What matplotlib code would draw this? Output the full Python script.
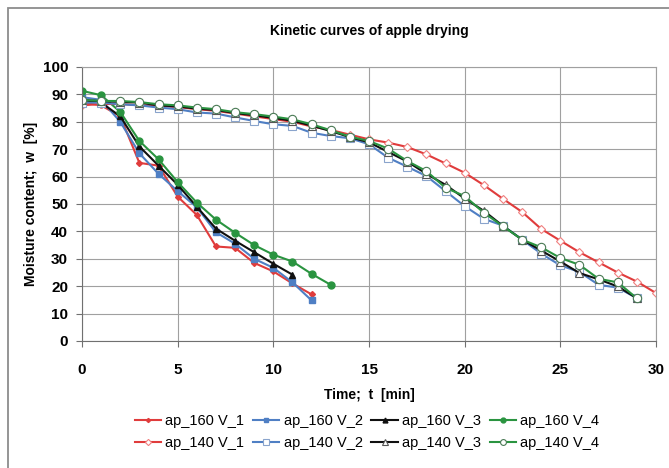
import matplotlib
matplotlib.use("Agg")
import matplotlib.pyplot as plt
from matplotlib.patches import Rectangle

plt.rcParams['font.family'] = ['Liberation Sans', 'DejaVu Sans']

# 160 W runs
t_160 = list(range(13))
t_160_4 = list(range(14))
ap160_1 = [87, 86, 82, 65, 64, 52.7, 46, 34.5, 34, 28.5, 25.4, 21, 17]
ap160_2 = [89, 88, 80, 68.5, 61, 54.7, 48.8, 39.7, 35.5, 30, 26.7, 21.4, 14.8]
ap160_3 = [88, 87, 82, 71, 64, 57, 49, 41, 36.6, 32.4, 28.2, 24.2]
ap160_4 = [91.3, 89.7, 83.6, 73, 66.3, 58, 50.5, 44.3, 39.5, 35, 31.5, 29, 24.5, 20.5]

# 140 W runs
t_140_1 = list(range(31))
t_140 = list(range(30))
ap140_1 = [86, 86.5, 86.5, 86, 85.8, 85.4, 84.6, 84, 83, 82, 81, 80, 78.3, 77, 75.3,
           73.6, 72.4, 70.8, 68.1, 64.8, 61.4, 56.9, 51.9, 47.1, 40.9, 36.6, 32.4,
           28.7, 25, 21.7, 17.5]
ap140_2 = [87, 87, 86.4, 86, 85.2, 84.6, 83.4, 83, 81.6, 80.3, 79.1, 78.5, 76, 74.8, 74,
           71.8, 66.9, 63.6, 60.2, 54.7, 49.2, 44.6, 42.1, 37, 31.9, 27.6, 25.2,
           20.5, 19.5, 15.6]
ap140_3 = [88, 87.5, 87.3, 87, 86, 85.6, 84.8, 84.3, 83.2, 82.4, 81.4, 80.4, 78.6, 76.6, 74.4,
           72.5, 69, 65.5, 61, 57, 52, 47.5, 42, 37, 33, 29, 24.8,
           22.5, 19.9, 15.6]
ap140_4 = [88, 87.6, 87.6, 87.2, 86.4, 86, 85.2, 84.6, 83.5, 82.8, 81.9, 80.9, 79.1, 76.9, 74.6,
           73, 70.2, 65.7, 62, 55.9, 52.9, 46.8, 41.9, 37, 34.2, 30.3, 27.8,
           22.7, 21.4, 15.6]

red = '#e03c3c'
blue = '#4f7fc4'
black = '#101010'
green = '#2a9440'

fig = plt.figure(figsize=(6.69, 4.68), dpi=100)
fig.patches.append(Rectangle((8 / 669, -0.1), 1.2, 1 - 8 / 468 + 0.1,
                             transform=fig.transFigure, fill=False,
                             edgecolor='#8c8c8c', linewidth=1.3))

ax = fig.add_axes([82 / 669, 1 - 341 / 468, (656 - 82) / 669, (341 - 67) / 468])

lw = 1.5
h1, = ax.plot(t_160, ap160_1, color=red, marker='D', markersize=3, lw=lw, label='ap_160 V_1')
h2, = ax.plot(t_160, ap160_2, color=blue, marker='s', markersize=5, lw=lw, label='ap_160 V_2')
h3, = ax.plot(t_160[:12], ap160_3, color=black, marker='^', markersize=5, lw=lw, label='ap_160 V_3')
h4, = ax.plot(t_160_4, ap160_4, color=green, marker='o', markersize=5, lw=lw, label='ap_160 V_4')
h5, = ax.plot(t_140_1, ap140_1, color=red, marker='D', markersize=4.5, mfc='white', mec='#f08080',
              mew=0.8, lw=lw, label='ap_140 V_1')
h6, = ax.plot(t_140, ap140_2, color=blue, marker='s', markersize=6, mfc='white', mec='#8aa4cc',
              mew=0.8, lw=lw, label='ap_140 V_2')
h7, = ax.plot(t_140, ap140_3, color=black, marker='^', markersize=6, mfc='white', mec='#555555',
              mew=0.8, lw=lw, label='ap_140 V_3')
h8, = ax.plot(t_140, ap140_4, color=green, marker='o', markersize=6, mfc='white', mec='#4a7a55',
              mew=0.8, lw=lw, label='ap_140 V_4')

ax.set_xlim(0, 30)
ax.set_ylim(0, 100)
ax.set_xticks(range(0, 31, 5))
ax.set_yticks(range(0, 101, 10))
ax.grid(True, color='#a0a0a0', linewidth=0.8)
ax.set_axisbelow(True)
for s in ax.spines.values():
    s.set_color('#a0a0a0')
ax.spines['left'].set_color('#707070')
ax.spines['bottom'].set_color('#707070')
ax.tick_params(direction='out', length=4, color='#707070', labelsize=11, pad=6)
for lab in ax.get_xticklabels() + ax.get_yticklabels():
    lab.set_fontweight('bold')
ax.tick_params(axis='x', pad=12)

fig.text(0.5 * (82 + 656) / 669, 1 - 31 / 468, 'Kinetic curves of apple drying',
         ha='center', va='center', fontsize=10, fontweight='bold')
ax.set_xlabel('Time;  t  [min]', fontsize=10, fontweight='bold', labelpad=8)
ax.set_ylabel('Moisture content;  w  [%]', fontsize=10, fontweight='bold', labelpad=3)

# legend fills column by column, so interleave to get the two rows right
handles = [h1, h5, h2, h6, h3, h7, h4, h8]
fig.legend(handles=handles, loc='center', bbox_to_anchor=(367 / 669, 1 - 432 / 468), ncol=4,
           frameon=False, fontsize=10.5, handlelength=1.8, handletextpad=0.3,
           columnspacing=0.6, labelspacing=0.6, markerscale=0.7)

fig.savefig('out.png', dpi=100)
